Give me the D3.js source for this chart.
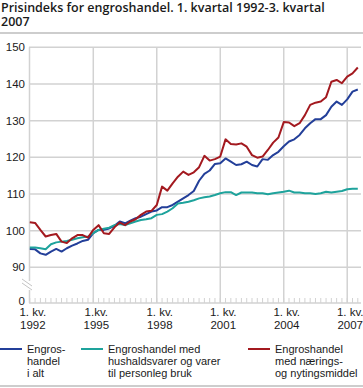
<!DOCTYPE html>
<html>
<head>
<meta charset="utf-8">
<script src="https://cdn.jsdelivr.net/npm/d3@7"></script>
<style>
  body { margin: 0; background: #fff; }
  text { font-family: "Liberation Sans", Arial, sans-serif; fill: #1a1a1a; }
  .title { font-family: "Open Sans", sans-serif; font-weight: 600; font-size: 12.5px; }
</style>
</head>
<body>
<div id="chart"></div>
<script>
// size of the picture
var chart_width = 363;
var chart_height = 388;

// data, quarterly 1992 Q1 - 2007 Q3
var start_year = 1992;
var tick_years = [1992, 1995, 1998, 2001, 2004, 2007];
var tick_top = ['1. kv.', '1.kv.', '1. kv.', '1. kv.', '1. kv.', '1. kv.'];
var y_ticks = [0, 90, 100, 110, 120, 130, 140, 150];

var engros_i_alt = [95.0, 94.9, 93.8, 93.4, 94.3, 95.0, 94.3, 95.2, 95.9, 96.5,
    97.2, 97.5, 99.3, 100.2, 100.2, 100.6, 101.3, 102.5, 102.0, 102.7,
    103.4, 103.8, 104.5, 105.2, 105.5, 106.4, 106.4, 107.0, 107.9, 108.8,
    109.7, 110.8, 113.6, 115.5, 116.4, 118.2, 118.4, 119.7, 118.8, 117.9,
    118.1, 118.8, 117.9, 117.5, 119.5, 119.3, 120.6, 121.5, 123.0, 124.3,
    124.9, 126.1, 127.9, 129.3, 130.4, 130.4, 131.5, 133.8, 135.2, 134.3,
    135.8, 137.9, 138.5];

var hushaldsvarer = [95.4, 95.4, 95.2, 94.9, 96.3, 96.8, 97.0, 97.2, 97.5, 97.9,
    98.2, 98.4, 99.3, 100.2, 100.5, 100.8, 101.5, 101.8, 101.5, 102.0,
    102.5, 102.9, 103.1, 103.4, 104.3, 104.5, 105.2, 106.1, 107.4, 107.6,
    107.9, 108.3, 108.8, 109.1, 109.3, 109.7, 110.2, 110.5, 110.5, 109.7,
    110.4, 110.4, 110.4, 110.2, 110.2, 109.9, 110.2, 110.4, 110.6, 110.9,
    110.4, 110.4, 110.2, 110.2, 110.0, 110.2, 110.6, 110.4, 110.6, 110.8,
    111.3, 111.4, 111.4];

var naeringsmiddel = [102.3, 102.1, 100.2, 98.4, 98.8, 99.1, 97.0, 96.6, 97.9, 98.8,
    98.8, 98.1, 100.2, 101.5, 99.3, 99.1, 100.9, 102.2, 101.5, 102.5,
    103.1, 104.3, 105.2, 105.4, 107.0, 112.0, 110.9, 112.9, 114.7, 116.1,
    115.2, 115.9, 117.3, 120.4, 119.1, 119.5, 120.2, 124.9, 123.6, 123.5,
    123.8, 122.9, 120.6, 119.9, 120.2, 122.0, 124.0, 125.4, 129.6, 129.5,
    128.5, 129.3, 131.5, 134.3, 134.9, 135.2, 136.4, 140.6, 141.1, 140.2,
    142.0, 142.9, 144.5];

var series = [
    { lines: ['Engros-', 'handel', 'i alt'], values: engros_i_alt, color: '#233f99', lx: 0 },
    { lines: ['Engroshandel med', 'hushaldsvarer og varer', 'til personleg bruk'], values: hushaldsvarer, color: '#1ea39c', lx: 81 },
    { lines: ['Engroshandel', 'med nærings-', 'og nytingsmiddel'], values: naeringsmiddel, color: '#a3191f', lx: 248 }
];

var grid_color = '#d2d2d2';

// scales
var x = d3.scaleLinear().domain([0, 62]).range([29.8, 357.8]);
// broken axis: 0 at the bottom, then 90 - 150
var y = d3.scaleLinear().domain([0, 90, 150]).range([303, 267.3, 47.3]);

var svg = d3.select('#chart')
    .append('svg')
    .attr('width', chart_width)
    .attr('height', chart_height);

// title
svg.append('text').attr('class', 'title').attr('x', 1).attr('y', 12)
    .text('Prisindeks for engroshandel. 1. kvartal 1992-3. kvartal');
svg.append('text').attr('class', 'title').attr('x', 1).attr('y', 26)
    .text('2007');
svg.append('line')
    .attr('x1', 0).attr('x2', chart_width)
    .attr('y1', 33).attr('y2', 33)
    .attr('stroke', '#bdbdbd').attr('stroke-width', 1.5);

// horizontal grid
svg.selectAll('.hgrid')
    .data(y_ticks.filter(function(d){ return d > 0; }))
    .enter()
    .append('line')
    .attr('x1', 29).attr('x2', 361)
    .attr('y1', function(d){ return y(d); })
    .attr('y2', function(d){ return y(d); })
    .attr('stroke', grid_color).attr('stroke-width', 1.5);

// vertical grid
svg.selectAll('.vgrid')
    .data(tick_years.slice(1))
    .enter()
    .append('line')
    .attr('x1', function(d){ return x((d - start_year) * 4); })
    .attr('x2', function(d){ return x((d - start_year) * 4); })
    .attr('y1', y(150)).attr('y2', y(0))
    .attr('stroke', grid_color).attr('stroke-width', 1.5);

// y axis line with break
var ax = 29.5;
svg.append('line').attr('x1', ax).attr('x2', ax).attr('y1', y(150)).attr('y2', 281)
    .attr('stroke', grid_color).attr('stroke-width', 1.5);
svg.append('line').attr('x1', ax).attr('x2', ax).attr('y1', 290).attr('y2', y(0))
    .attr('stroke', grid_color).attr('stroke-width', 1.5);
[0, 4].forEach(function(off){
    svg.append('line')
        .attr('x1', 22).attr('y1', 279 + off)
        .attr('x2', 32).attr('y2', 286 + off)
        .attr('stroke', '#c4c4c4').attr('stroke-width', 1);
});

// x baseline and quarter ticks
svg.append('line').attr('x1', 29).attr('x2', 361).attr('y1', y(0)).attr('y2', y(0))
    .attr('stroke', grid_color).attr('stroke-width', 1.5);
svg.selectAll('.qtick')
    .data(d3.range(0, 63))
    .enter()
    .append('line')
    .attr('x1', function(d){ return x(d); })
    .attr('x2', function(d){ return x(d); })
    .attr('y1', y(0)).attr('y2', y(0) - 5)
    .attr('stroke', grid_color).attr('stroke-width', 1);

// y labels
svg.selectAll('.ylab')
    .data(y_ticks)
    .enter()
    .append('text')
    .attr('x', 25)
    .attr('y', function(d){ return d === 0 ? y(d) + 2 : y(d) + 4; })
    .attr('text-anchor', 'end')
    .attr('font-size', 11.5)
    .text(function(d){ return d; });

// x labels
tick_years.forEach(function(yr, i){
    var t = svg.append('text')
        .attr('x', x((yr - start_year) * 4) + 3)
        .attr('text-anchor', 'middle')
        .attr('font-size', 11.5);
    t.append('tspan').attr('x', x((yr - start_year) * 4) + 3).attr('y', 316).text(tick_top[i]);
    t.append('tspan').attr('x', x((yr - start_year) * 4) + 3).attr('y', 329).text(yr);
});

// lines
var line = d3.line()
    .x(function(d, i){ return x(i); })
    .y(function(d){ return y(d); });

svg.selectAll('.series')
    .data(series)
    .enter()
    .append('path')
    .attr('d', function(d){ return line(d.values); })
    .attr('fill', 'none')
    .attr('stroke', function(d){ return d.color; })
    .attr('stroke-width', 2)
    .attr('stroke-linejoin', 'round');

// legend
series.forEach(function(s){
    svg.append('line')
        .attr('x1', s.lx).attr('x2', s.lx + 22)
        .attr('y1', 349).attr('y2', 349)
        .attr('stroke', s.color).attr('stroke-width', 2);
    var t = svg.append('text').attr('font-size', 11);
    s.lines.forEach(function(l, k){
        t.append('tspan').attr('x', s.lx + 27).attr('y', 353 + k * 12).text(l);
    });
});

svg.append('line')
    .attr('x1', 0).attr('x2', chart_width)
    .attr('y1', 386).attr('y2', 386)
    .attr('stroke', '#bdbdbd').attr('stroke-width', 1.5);
</script>
</body>
</html>
